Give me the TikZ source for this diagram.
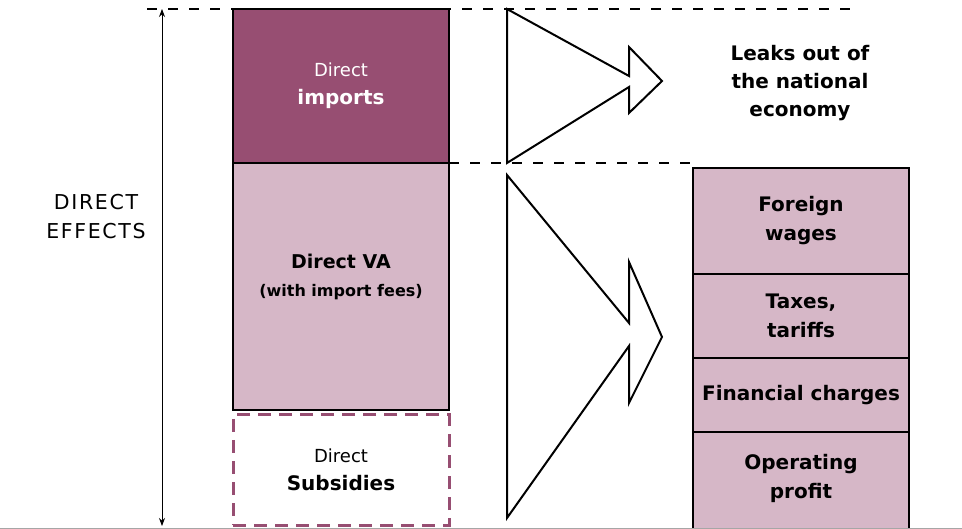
\documentclass[tikz,border=0pt]{standalone}
\usepackage{fontspec}
\setmainfont{DejaVu Sans}
\usetikzlibrary{positioning,arrows.meta}
\definecolor{darkmauve}{RGB}{151,78,114}
\definecolor{lightmauve}{RGB}{214,183,199}

\begin{document}
\begin{tikzpicture}[x=1pt, y=-1pt,
    stackbox/.style = {draw, line width=1.8pt, inner sep=0pt, outer sep=0pt,
                       align=center, anchor=north west, minimum width=216pt},
    leftbox/.style  = {stackbox, font=\fontsize{20}{28}\selectfont\bfseries},
    rightbox/.style = {stackbox, fill=lightmauve,
                       font=\fontsize{20}{29}\selectfont\bfseries},
    level/.style    = {line width=2pt, dash pattern=on 10pt off 11pt},
    flow/.style     = {line width=2pt, line join=miter}]
    \clip (0,0) rectangle (962,529);

    % Left stack
    \node[leftbox, fill=darkmauve, text=white, minimum height=154pt] (imports) at (233,9)
        {{\mdseries\fontsize{18}{28}\selectfont Direct}\\imports};
    \node[leftbox, fill=lightmauve, minimum height=247pt, below=0pt of imports,
          label={[align=center, yshift=10pt, font=\fontsize{19}{28}\selectfont\bfseries]center:Direct VA\\{\fontsize{16}{28}\selectfont (with import fees)}}] (va) {};
    \node[leftbox, draw=darkmauve, line width=3pt, dash pattern=on 13pt off 8pt,
          minimum height=110pt, below=5pt of va] (subsidies)
        {{\mdseries\fontsize{18}{28}\selectfont Direct}\\Subsidies};

    % Height of the direct effects
    \coordinate (top) at (162,9);
    \coordinate (bottom) at (162,526);
    \draw[{Stealth[length=8pt,width=6pt]}-{Stealth[length=8pt,width=6pt]}, line width=0.8pt] (top) -- (bottom);
    \node[align=center, font=\fontsize{20.5}{29}\selectfont\addfontfeature{LetterSpace=8}] (effects) at (96,217)
        {DIRECT\\EFFECTS};

    % Dashed levels
    \coordinate (lvlA) at (147,9);
    \coordinate (lvlB) at (855,9);
    \draw[level] (lvlA) -- (lvlB);
    \coordinate (lvlC) at (449,163);
    \coordinate (lvlD) at (693,163);
    \draw[level] (lvlC) -- (lvlD);

    % Big arrows
    \draw[flow] (507,9) -- (629,76) -- (629,47) -- (662,81) -- (629,113)
        -- (629,87) -- (507,163) -- cycle;
    \draw[flow] (507,175) -- (629,323) -- (629,262) -- (662,337) -- (629,403)
        -- (629,346) -- (507,518) -- cycle;

    \node[align=center, font=\fontsize{20}{28}\selectfont\bfseries] (leaks) at (800,83)
        {Leaks out of\\the national\\economy};

    % Right stack
    \node[rightbox, minimum height=106pt] (wages) at (693,168) {Foreign\\wages};
    \node[rightbox, minimum height=84pt, below=0pt of wages] (taxes) {Taxes,\\tariffs};
    \node[rightbox, minimum height=74pt, below=0pt of taxes] (charges) {Financial charges};
    \fill[lightmauve] (charges.south west) rectangle ++(216,110);
    \node[rightbox, draw=none, minimum height=93pt, below=0pt of charges] (profit) {Operating\\profit};
    \draw[line width=1.8pt] (profit.north west) -- ++(0,110);
    \draw[line width=1.8pt] (profit.north east) -- ++(0,110);
    \draw[line width=1.8pt] (profit.north west) -- (profit.north east);

    % Bottom rule
    \coordinate (ruleL) at (0,528);
    \coordinate (ruleR) at (962,528);
    \draw[gray!70, line width=1pt] (ruleL) -- (ruleR);
\end{tikzpicture}
\end{document}
